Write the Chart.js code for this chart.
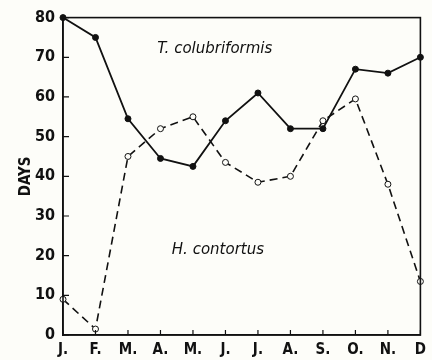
<!DOCTYPE html>
<html>
<head>
<meta charset="utf-8">
<script src="https://cdn.jsdelivr.net/npm/chart.js@4/dist/chart.umd.min.js"></script>
<style>
  html, body { margin: 0; padding: 0; background: #fdfdf9; }
  #wrap { width: 432px; height: 360px; }
</style>
</head>
<body>
<div id="wrap"><canvas id="c" width="432" height="360"></canvas></div>
<script>
// Months of the year
const months = ["J.", "F.", "M.", "A.", "M.", "J.", "J.", "A.", "S.", "O.", "N.", "D"];
// Days for each species, by month
const colubriformis = [80, 75, 54.5, 44.5, 42.5, 54, 61, 52, 52, 67, 66, 70];
const contortus = [9, 1.5, 45, 52, 55, 43.5, 38.5, 40, 54, 59.5, 38, 13.5];
// Y axis tick values
const dayTicks = [0, 10, 20, 30, 40, 50, 60, 70, 80];
// Species names written inside the plot, with anchor in data units
const speciesLabels = [
  { text: "T. colubriformis", x: 2.9, y: 72 },
  { text: "H. contortus", x: 3.35, y: 21.3 }
];

const FONT = "'Liberation Sans Narrow', 'DejaVu Sans Condensed', 'Roboto', sans-serif";
const INK = "#111";

// Frame around the plot, inward tick marks, and the species names
const framePlugin = {
  id: "frame",
  afterDatasetsDraw(chart) {
    const { ctx, chartArea: a, scales } = chart;
    ctx.save();
    ctx.strokeStyle = INK;
    ctx.lineWidth = 1.6;
    ctx.strokeRect(a.left, a.top, a.right - a.left, a.bottom - a.top);
    ctx.lineWidth = 1.2;
    ctx.beginPath();
    dayTicks.forEach(v => {
      const y = scales.y.getPixelForValue(v);
      ctx.moveTo(a.left, y);
      ctx.lineTo(a.left + 6, y);
    });
    months.forEach((m, i) => {
      const x = scales.x.getPixelForValue(i);
      ctx.moveTo(x, a.bottom);
      ctx.lineTo(x, a.bottom - 5);
    });
    ctx.stroke();
    ctx.fillStyle = INK;
    ctx.font = "italic 15px 'DejaVu Sans', sans-serif";
    ctx.textAlign = "left";
    ctx.textBaseline = "middle";
    speciesLabels.forEach(l => {
      ctx.fillText(l.text, scales.x.getPixelForValue(l.x), scales.y.getPixelForValue(l.y));
    });
    ctx.restore();
  }
};

new Chart(document.getElementById("c"), {
  type: "line",
  data: {
    labels: months,
    datasets: [
      {
        label: "T. colubriformis",
        data: colubriformis,
        borderColor: INK,
        borderWidth: 1.8,
        backgroundColor: INK,
        pointRadius: 3,
        pointBackgroundColor: INK,
        pointBorderColor: INK,
        pointBorderWidth: 1,
        tension: 0,
        clip: false
      },
      {
        label: "H. contortus",
        data: contortus,
        borderColor: INK,
        borderWidth: 1.6,
        borderDash: [8, 5],
        pointRadius: 3,
        pointBackgroundColor: "#fdfdf9",
        pointBorderColor: INK,
        pointBorderWidth: 1,
        tension: 0,
        clip: false
      }
    ]
  },
  options: {
    responsive: false,
    animation: false,
    layout: { padding: { top: 16, right: 11, left: 0, bottom: 0 } },
    plugins: { legend: { display: false }, tooltip: { enabled: false } },
    scales: {
      x: {
        offset: false,
        grid: { display: false, drawTicks: false },
        border: { display: true, color: INK, width: 1.6 },
        ticks: {
          color: INK,
          padding: 6,
          maxRotation: 0,
          autoSkip: false,
          font: { family: FONT, size: 15, weight: "bold" }
        },
        afterFit(s) { s.height = 25; }
      },
      y: {
        min: 0,
        max: 80,
        grid: { display: false, drawTicks: false },
        border: { display: true, color: INK, width: 1.6 },
        ticks: {
          stepSize: 10,
          color: INK,
          padding: 8,
          font: { family: FONT, size: 16, weight: "bold" }
        },
        title: {
          display: true,
          text: "DAYS",
          color: INK,
          padding: { top: 17, bottom: 0 },
          font: { family: FONT, size: 15, weight: "bold" }
        },
        afterFit(s) { s.width = 63; }
      }
    }
  },
  plugins: [framePlugin]
});
</script>
</body>
</html>
